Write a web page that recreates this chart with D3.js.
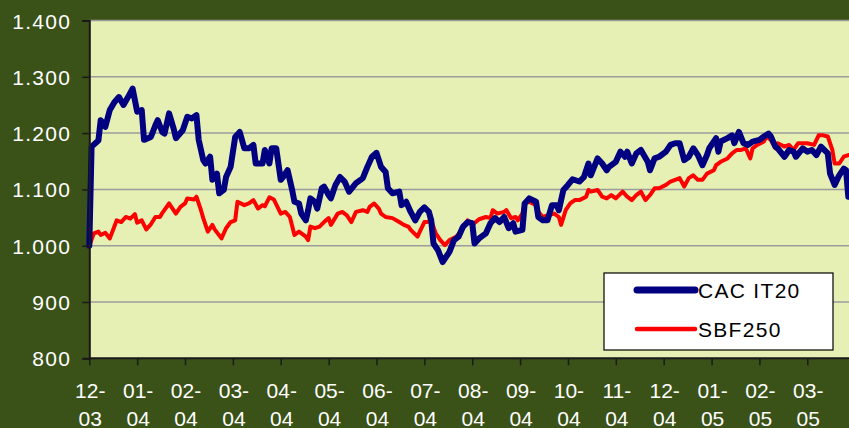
<!DOCTYPE html>
<html>
<head>
<meta charset="utf-8">
<script src="https://cdn.jsdelivr.net/npm/d3@7"></script>
<style>
  html, body { margin: 0; padding: 0; background: #3a5117; }
  svg { display: block; }
</style>
</head>
<body>
<div id="chart"></div>
<script>
// month labels, one every 21 trading days
const monthLabels = ["12-03", "01-04", "02-04", "03-04", "04-04", "05-04", "06-04", "07-04",
  "08-04", "09-04", "10-04", "11-04", "12-04", "01-05", "02-05", "03-05"];
const daysPerTick = 21;
const lastDay = 333.3;

const yTicks = [800, 900, 1000, 1100, 1200, 1300, 1400];

// [trading day, index value]
const cacIT20 = [[0,1000],[1,1176],[4,1187],[5,1223],[7,1211],[9,1241],[11,1255],[13,1264],[15,1250],[17,1264],[19,1279],
  [21,1238],[23,1241],[24,1188],[27,1193],[29,1214],[30,1223],[32,1202],[33,1199],[35,1235],[37,1208],[38,1191],[41,1205],
  [43,1229],[45,1226],[47,1232],[48,1188],[50,1152],[51,1146],[53,1158],[54,1117],[56,1128],[57,1093],[59,1099],[60,1122],
  [62,1140],[64,1193],[66,1202],[68,1173],[70,1173],[72,1179],[73,1146],[76,1146],[77,1170],[79,1146],[80,1173],[82,1173],
  [84,1117],[85,1122],[87,1134],[89,1099],[90,1078],[92,1075],[93,1057],[95,1045],[96,1063],[97,1084],[99,1078],[100,1066],
  [102,1102],[103,1105],[105,1090],[106,1084],[108,1108],[110,1122],[112,1114],[114,1096],[117,1111],[119,1117],[120,1120],
  [122,1140],[124,1158],[126,1165],[128,1140],[130,1131],[131,1102],[133,1093],[136,1096],[137,1072],[139,1078],[141,1060],
  [143,1045],[145,1060],[147,1068],[149,1060],[150,1045],[151,1004],[153,992],[155,971],[158,989],[160,1010],[162,1016],
  [164,1034],[166,1042],[168,1040],[169,1004],[171,1013],[174,1022],[176,1040],[178,1049],[180,1042],[182,1051],[184,1031],
  [186,1040],[187,1025],[190,1028],[191,1075],[193,1084],[196,1078],[197,1051],[199,1045],[201,1045],[203,1072],[205,1072],
  [206,1063],[208,1099],[210,1108],[212,1118],[215,1114],[217,1122],[219,1146],[220,1125],[223,1155],[225,1146],[227,1134],
  [228,1140],[231,1149],[233,1167],[235,1158],[236,1167],[238,1146],[240,1164],[242,1170],[245,1149],[246,1134],[248,1155],
  [250,1158],[253,1167],[255,1179],[257,1182],[259,1182],[261,1152],[263,1158],[265,1173],[267,1161],[269,1143],[271,1161],
  [272,1173],[275,1191],[276,1167],[277,1185],[280,1191],[282,1196],[283,1182],[285,1202],[287,1182],[289,1179],[291,1185],
  [294,1188],[296,1194],[298,1199],[299,1194],[301,1176],[302,1173],[305,1158],[307,1170],[309,1167],[310,1158],[313,1173],
  [315,1167],[317,1170],[319,1161],[321,1176],[324,1164],[325,1128],[327,1108],[329,1125],[331,1137],[332,1134],[333,1087]];

const sbf250 = [[0,1000],[2,1022],[4,1025],[5,1019],[7,1023],[9,1013],[11,1034],[12,1045],[14,1042],[16,1051],[18,1048],
  [20,1056],[21,1041],[23,1045],[25,1029],[27,1038],[29,1051],[31,1051],[32,1058],[35,1075],[36,1069],[38,1057],[40,1069],
  [42,1075],[43,1084],[46,1082],[47,1087],[49,1063],[50,1049],[52,1025],[54,1037],[55,1029],[58,1013],[60,1031],[62,1042],
  [64,1045],[65,1078],[68,1072],[70,1075],[72,1081],[74,1066],[76,1072],[77,1070],[79,1086],[81,1082],[84,1057],[86,1060],
  [88,1051],[90,1019],[92,1025],[95,1016],[96,1010],[97,1034],[99,1031],[101,1034],[103,1042],[105,1049],[106,1037],
  [109,1057],[111,1060],[113,1054],[115,1042],[117,1060],[120,1063],[122,1060],[123,1069],[125,1075],[127,1066],[128,1057],
  [130,1051],[133,1049],[136,1042],[138,1037],[140,1034],[141,1028],[144,1016],[145,1025],[147,1042],[148,1042],[150,1045],
  [152,1022],[154,1010],[156,1001],[158,1010],[161,1016],[163,1025],[165,1037],[166,1045],[168,1037],[171,1047],[174,1051],
  [176,1049],[177,1063],[179,1057],[182,1060],[183,1063],[185,1049],[187,1051],[188,1045],[190,1057],[191,1075],[193,1078],
  [196,1072],[197,1060],[199,1051],[201,1054],[204,1057],[206,1051],[207,1037],[209,1063],[211,1075],[213,1081],[215,1081],
  [218,1087],[219,1099],[220,1096],[223,1099],[225,1087],[227,1084],[229,1090],[231,1084],[234,1096],[236,1087],[238,1081],
  [240,1090],[242,1096],[244,1081],[246,1090],[248,1102],[250,1102],[253,1108],[255,1114],[257,1117],[259,1120],[261,1105],
  [263,1120],[265,1125],[267,1117],[269,1117],[271,1128],[274,1134],[275,1143],[277,1149],[280,1155],[282,1164],[284,1170],
  [286,1170],[288,1173],[290,1155],[291,1173],[293,1179],[296,1185],[297,1194],[299,1188],[301,1173],[302,1182],[305,1176],
  [307,1179],[309,1170],[311,1182],[313,1182],[315,1182],[318,1179],[320,1196],[322,1196],[324,1194],[326,1170],[327,1146],
  [329,1146],[331,1158],[333,1161]];

const series = [
  { name: "CAC IT20", values: cacIT20, color: "#000080", width: 6, legendWidth: 7 },
  { name: "SBF250", values: sbf250, color: "#ff0000", width: 4, legendWidth: 4.5 }
];

const W = 849, H = 428;
const plot = { left: 89.3, top: 20.5, right: 849, bottom: 358.3 };

const svg = d3.select("#chart").append("svg")
  .attr("width", W)
  .attr("height", H)
  .style("font-family", "Arial, 'Liberation Sans', sans-serif");

svg.append("rect").attr("width", W).attr("height", H).attr("fill", "#3a5117");

const x = d3.scaleLinear().domain([0, lastDay]).range([plot.left, plot.right]);
const y = d3.scaleLinear().domain([800, 1400]).range([plot.bottom, plot.top]);

// plot area (runs past the right edge of the picture)
svg.append("rect")
  .attr("x", plot.left)
  .attr("y", plot.top)
  .attr("width", W + 20 - plot.left)
  .attr("height", plot.bottom - plot.top)
  .attr("fill", "#e6f0b4");

// grid
svg.append("g")
  .selectAll("line")
  .data(yTicks.filter(d => d > 800))
  .enter()
  .append("line")
  .attr("x1", plot.left)
  .attr("x2", W + 20)
  .attr("y1", d => y(d))
  .attr("y2", d => y(d))
  .attr("stroke", "#9c9c9c")
  .attr("stroke-width", 1.5);

svg.append("clipPath").attr("id", "clip")
  .append("rect")
  .attr("x", plot.left - 4)
  .attr("y", plot.top)
  .attr("width", W)
  .attr("height", plot.bottom - plot.top);

const line = d3.line()
  .x(d => x(d[0]))
  .y(d => y(d[1]));

// SBF drawn first, CAC on top of it
svg.append("g")
  .attr("clip-path", "url(#clip)")
  .selectAll("path")
  .data(series.slice().reverse())
  .enter()
  .append("path")
  .attr("d", d => line(d.values))
  .attr("fill", "none")
  .attr("stroke", d => d.color)
  .attr("stroke-width", d => d.width)
  .attr("stroke-linejoin", "round")
  .attr("stroke-linecap", "round");

// y axis
const fmt = d3.formatLocale({ decimal: ",", thousands: ".", grouping: [3], currency: ["", ""] }).format(",");
const yAxis = svg.append("g")
  .attr("transform", `translate(${plot.left},0)`)
  .call(d3.axisLeft(y).tickValues(yTicks).tickSize(7).tickPadding(11).tickFormat(fmt));
yAxis.select(".domain").attr("stroke", "#1a1a1a").attr("stroke-width", 2);
yAxis.selectAll(".tick line").attr("stroke", "#1a1a1a").attr("stroke-width", 1.5);
yAxis.selectAll(".tick text")
  .attr("fill", "#ffffff")
  .style("font-size", "21px")
  .style("letter-spacing", "1.3px")
  .attr("dy", "0.36em");

// x axis
const tickDays = monthLabels.map((m, i) => i * daysPerTick);
const xAxis = svg.append("g")
  .attr("transform", `translate(0,${plot.bottom})`)
  .call(d3.axisBottom(x).tickValues(tickDays).tickSize(7).tickFormat(""));
xAxis.select(".domain").attr("stroke", "#1a1a1a").attr("stroke-width", 2).attr("d", `M${plot.left},0H${W + 20}`);
xAxis.selectAll(".tick line").attr("stroke", "#1a1a1a").attr("stroke-width", 1.5);

const xLabels = svg.append("g")
  .selectAll("text")
  .data(monthLabels)
  .enter()
  .append("text")
  .attr("x", (d, i) => x(tickDays[i]))
  .attr("text-anchor", "middle")
  .attr("fill", "#ffffff")
  .style("font-size", "21px");
xLabels.append("tspan")
  .attr("x", (d, i) => x(tickDays[i]) + 1)
  .attr("y", 398)
  .text(d => d.split("-")[0] + "-");
xLabels.append("tspan")
  .attr("x", (d, i) => x(tickDays[i]) + 1)
  .attr("y", 425.5)
  .text(d => d.split("-")[1]);

// legend
const legend = svg.append("g").attr("transform", "translate(604,273)");
legend.append("rect")
  .attr("width", 229)
  .attr("height", 77)
  .attr("fill", "#ffffff")
  .attr("stroke", "#000000")
  .attr("stroke-width", 1.2);
const item = legend.selectAll(".item")
  .data(series)
  .enter()
  .append("g")
  .attr("class", "item")
  .attr("transform", (d, i) => `translate(0,${17 + i * 39})`);
item.append("line")
  .attr("x1", 33)
  .attr("x2", 91)
  .attr("stroke", d => d.color)
  .attr("stroke-width", d => d.legendWidth)
  .attr("stroke-linecap", "round");
item.append("text")
  .attr("x", 94)
  .attr("y", 7.5)
  .attr("fill", "#000000")
  .style("font-size", "21px")
  .style("letter-spacing", "1.3px")
  .text(d => d.name);
</script>
</body>
</html>
